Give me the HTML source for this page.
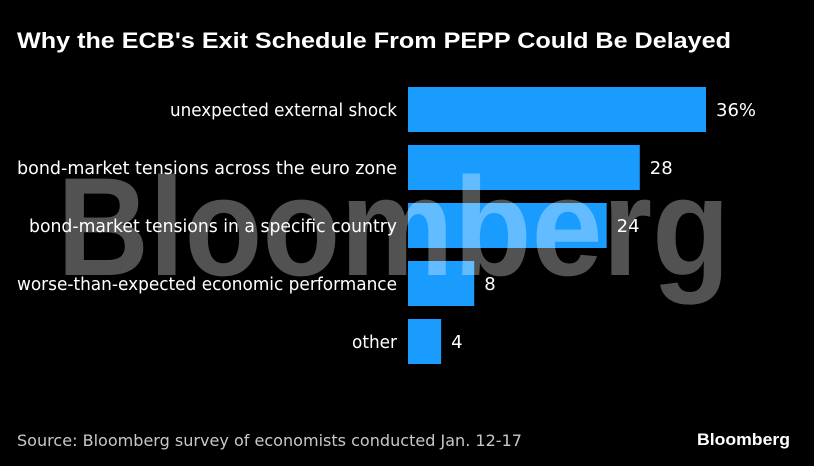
<!DOCTYPE html>
<html><head><meta charset="utf-8"><style>
html,body{margin:0;padding:0;background:#000;width:814px;height:466px;overflow:hidden}
svg{display:block}
</style></head><body>
<svg width="814" height="466" xmlns="http://www.w3.org/2000/svg" id="chart">
<rect width="814" height="466" fill="#000"/>
<text x="17" y="48" fill="#fff" font-family="Liberation Sans, sans-serif" font-weight="bold" font-size="22" textLength="714" lengthAdjust="spacingAndGlyphs">Why the ECB's Exit Schedule From PEPP Could Be Delayed</text>
<g id="bars"></g>
<text x="57" y="275" fill="#fff" fill-opacity="0.32" font-family="Liberation Sans, sans-serif" font-weight="bold" font-size="140" textLength="673" lengthAdjust="spacingAndGlyphs">Bloomberg</text>
<text x="17" y="446" fill="#c8c8c8" font-family="DejaVu Sans, sans-serif" font-size="16" textLength="505" lengthAdjust="spacingAndGlyphs">Source: Bloomberg survey of economists conducted Jan. 12-17</text>
<text x="697" y="445" fill="#fff" font-family="Liberation Sans, sans-serif" font-weight="bold" font-size="17" textLength="93" lengthAdjust="spacingAndGlyphs">Bloomberg</text>
</svg>
<script>
const categories = ["unexpected external shock","bond-market tensions across the euro zone","bond-market tensions in a specific country","worse-than-expected economic performance","other"];
const values = [36,28,24,8,4];
const valueLabels = ["36%","28","24","8","4"];
const labelLengths = [227,380,368,380,45];
const x0 = 408, pxPer = 298/36;
function xScale(v){return x0 + v*pxPer;}
function yScale(i){return 87 + i*58;}
const ns="http://www.w3.org/2000/svg";
const g=document.getElementById('bars');
categories.forEach((c,i)=>{
  const y=yScale(i);
  const r=document.createElementNS(ns,'rect');
  r.setAttribute('x',x0);r.setAttribute('y',y);
  r.setAttribute('width',xScale(values[i])-x0);r.setAttribute('height',45);
  r.setAttribute('fill','#1a9cff');
  
  
  g.appendChild(r);
  const t=document.createElementNS(ns,'text');
  t.setAttribute('x',397);t.setAttribute('y',y+29);
  t.setAttribute('text-anchor','end');t.setAttribute('fill','#fff');
  t.setAttribute('font-family','DejaVu Sans, sans-serif');t.setAttribute('font-size','18');
  t.setAttribute('textLength',labelLengths[i]);t.setAttribute('lengthAdjust','spacingAndGlyphs');
  t.textContent=c;
  
  
  g.appendChild(t);
  const v=document.createElementNS(ns,'text');
  v.setAttribute('x',xScale(values[i])+10);v.setAttribute('y',y+29);
  v.setAttribute('fill','#fff');
  v.setAttribute('font-family','DejaVu Sans, sans-serif');v.setAttribute('font-size','18');
  v.textContent=valueLabels[i];
  
  
  g.appendChild(v);
});
</script>
</body></html>
